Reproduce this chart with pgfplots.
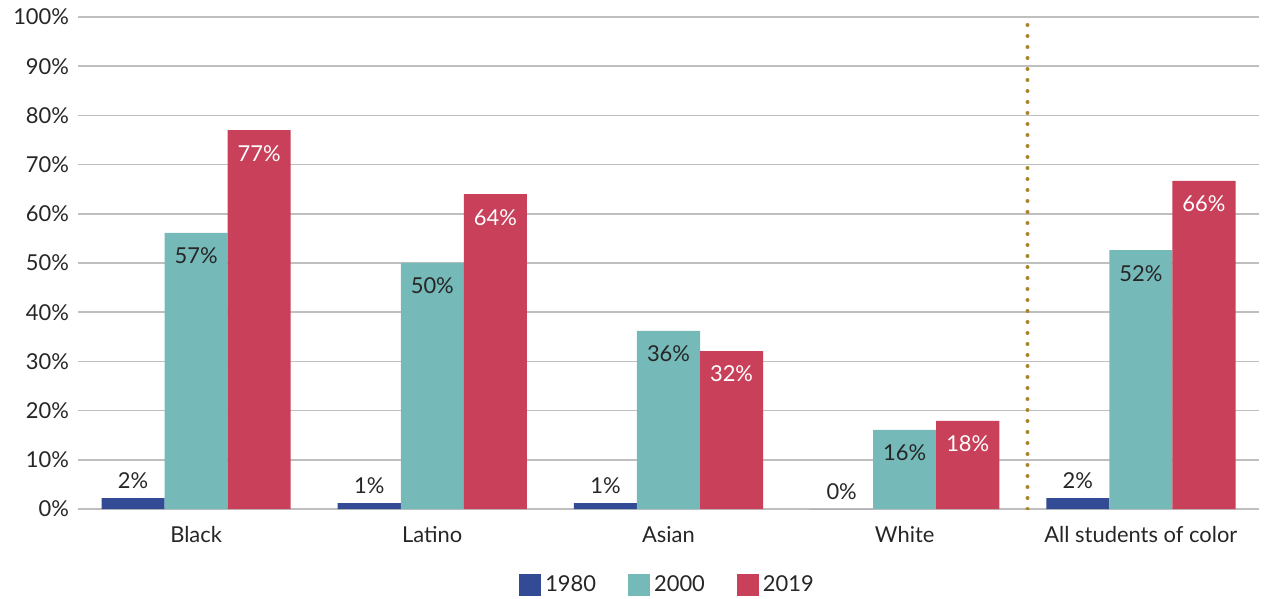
\documentclass[border=0pt]{standalone}
\usepackage{pgfplots}
\pgfplotsset{compat=1.18}
\usepackage{fontspec}
\setmainfont{Lato}
\definecolor{c1980}{HTML}{334A94}
\definecolor{c2000}{HTML}{75B9B9}
\definecolor{c2019}{HTML}{C8405A}
\definecolor{gridgray}{HTML}{BFBFBF}
\definecolor{divider}{HTML}{A8852A}
\definecolor{txt}{HTML}{262626}
\begin{document}
\begin{tikzpicture}
\useasboundingbox (-39bp,-45bp) rectangle (593bp,254.5bp);
\begin{axis}[
    scale only axis,
    width=590.5bp, height=246bp,
    xmin=-0.5, xmax=4.5,
    ymin=0, ymax=100,
    ybar=0pt, bar width=0.267,
    axis line style={draw=none},
    tick style={draw=none},
    ymajorgrids, grid style={gridgray, line width=0.8bp},
    ytick={0,10,...,100},
    yticklabel={\pgfmathprintnumber{\tick}\%},
    /pgf/number format/assume math mode=true,
    yticklabel style={font=\fontsize{11}{13}\selectfont, text=txt, xshift=-1bp},
    xtick={0,1,2,3,4},
    xticklabels={Black,Latino,Asian,White,All students of color},
    xticklabel style={font=\fontsize{11}{13}\selectfont, text=txt, yshift=-1bp},
    point meta=explicit symbolic,
    nodes near coords,
    every node near coord/.append style={font=\fontsize{11}{13}\selectfont},
    legend style={at={(0.5,-0.118)}, anchor=north, legend columns=3, draw=none,
        font=\fontsize{11}{13}\selectfont, text=txt,
        /tikz/every even column/.append style={column sep=14bp}},
    legend image code/.code={\fill[#1] (0bp,-5.5bp) rectangle (11bp,5.5bp);},
]
\addplot[fill=c1980, draw=none, bar shift=-0.267,
    every node near coord/.append style={anchor=south, text=txt, yshift=1bp}]
coordinates {(0,2.2) [2\%] (1,1.2) [1\%] (2,1.2) [1\%] (3,0) [0\%] (4,2.2) [2\%]};
\addplot[fill=c2000, draw=none, bar shift=0,
    every node near coord/.append style={anchor=north, text=txt, yshift=-4bp}]
coordinates {(0,56.1) [57\%] (1,50) [50\%] (2,36.2) [36\%] (3,16.1) [16\%] (4,52.6) [52\%]};
\addplot[fill=c2019, draw=none, bar shift=0.267,
    every node near coord/.append style={anchor=north, text=white, yshift=-4bp}]
coordinates {(0,77) [77\%] (1,64) [64\%] (2,32.1) [32\%] (3,17.9) [18\%] (4,66.7) [66\%]};
\legend{1980,2000,2019}
\draw[divider, line width=2bp, line cap=round, dash pattern=on 0bp off 5.5bp]
    (axis cs:3.52,0) -- (axis cs:3.52,99);
\end{axis}
\end{tikzpicture}
\end{document}
